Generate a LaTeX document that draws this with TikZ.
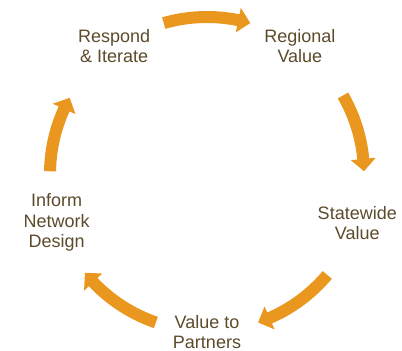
\documentclass[tikz,border=0pt]{standalone}
\usepackage{fontspec}
\setmainfont{Liberation Sans}
\definecolor{cycorange}{HTML}{E9971F}
\definecolor{cyctext}{HTML}{5C4A2B}

\begin{document}
\begin{tikzpicture}[
    stage/.style = {
      text = cyctext,
      align = center,
      font = \fontsize{18}{20.5}\selectfont,
      inner sep = 0pt
    },
    cyclearrow/.style = {
      fill = cycorange
    }
  ]
  \useasboundingbox (-207pt,-177pt) rectangle (195pt,174pt);

  \node[stage] (respond)   at (126:158pt) {Respond\\\& Iterate};
  \node[stage] (regional)  at (54:158pt)  {Regional\\Value};
  \node[stage] (statewide) at (-18:158pt) {Statewide\\Value};
  \node[stage] (partners)  at (-90:158pt) {Value to\\Partners};
  \node[stage] (inform)    at (198:158pt) {Inform\\Network\\Design};

  % arcs between the stages, clockwise
  \foreach \a/\b in {106/74, 30/1, -40/-71, -109/-141, 179/151} {
    \pgfmathsetmacro{\h}{\b+4.5}
    \fill[cyclearrow] (\a:163pt) arc[start angle=\a, end angle=\h, radius=163pt]
      -- (\h:169.5pt) -- (\b:157pt) -- (\h:144.5pt) -- (\h:151pt)
      arc[start angle=\h, end angle=\a, radius=151pt] -- cycle;
  }
\end{tikzpicture}
\end{document}
